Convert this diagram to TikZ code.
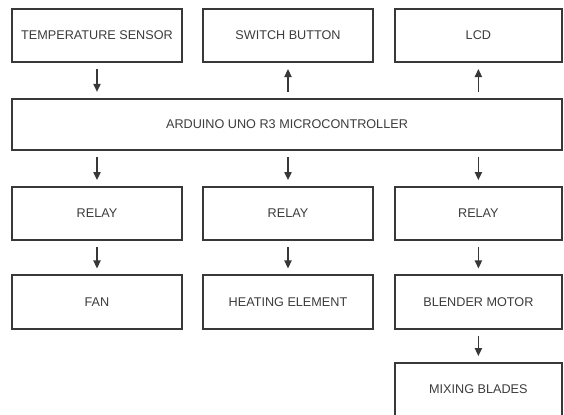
\documentclass[tikz,border=0pt]{standalone}
\usepackage{fontspec}
\setmainfont{Liberation Sans}
\usetikzlibrary{arrows.meta,positioning}
\definecolor{frame}{RGB}{56,56,56}
\definecolor{ink}{RGB}{60,60,60}
\tikzset{
  >={Triangle[length=2mm,width=1.8mm]},
  blk/.style={draw=frame,line width=1.3pt,minimum width=#1,minimum height=13.3mm,
    inner sep=0pt,font=\fontsize{9}{11}\selectfont,text=ink},
  blk/.default=42.5mm,
  flow/.style={->,line width=1pt,draw=frame,shorten <=1.5mm,shorten >=1.5mm},
}

\begin{document}
\begin{tikzpicture}
  \useasboundingbox (0,0) rectangle (14.1,-10.375);
  % inputs and display
  \node[blk] (temp) at (2.425,-0.8875) {TEMPERATURE SENSOR};
  \node[blk] (switch) at (7.2,-0.8875) {SWITCH BUTTON};
  \node[blk=41.8mm] (lcd) at (11.96,-0.8875) {LCD};
  % controller
  \node[blk=137.5mm,minimum height=12.8mm] (ard) at (7.175,-3.11) {ARDUINO UNO R3 MICROCONTROLLER};
  % relays and loads
  \foreach \x/\w/\l [count=\i] in {2.425/42.5mm/FAN,7.2/42.5mm/HEATING ELEMENT,11.96/41.8mm/BLENDER MOTOR}{
    \node[blk=\w] (relay\i) at (\x,-5.34) {RELAY};
    \node[blk=\w] (load\i) at (\x,-7.55) {\l};
    \draw[flow] (ard.south -| relay\i) -- (relay\i);
    \draw[flow] (relay\i) -- (load\i);
  }
  \node[blk=41.8mm] (blades) at (11.96,-9.74) {MIXING BLADES};
  \draw[flow] (temp) -- (temp |- ard.north);
  \draw[flow] (ard.north -| switch) -- (switch);
  \draw[flow] (ard.north -| lcd) -- (lcd);
  \draw[flow] (load3) -- (blades);
\end{tikzpicture}
\end{document}
